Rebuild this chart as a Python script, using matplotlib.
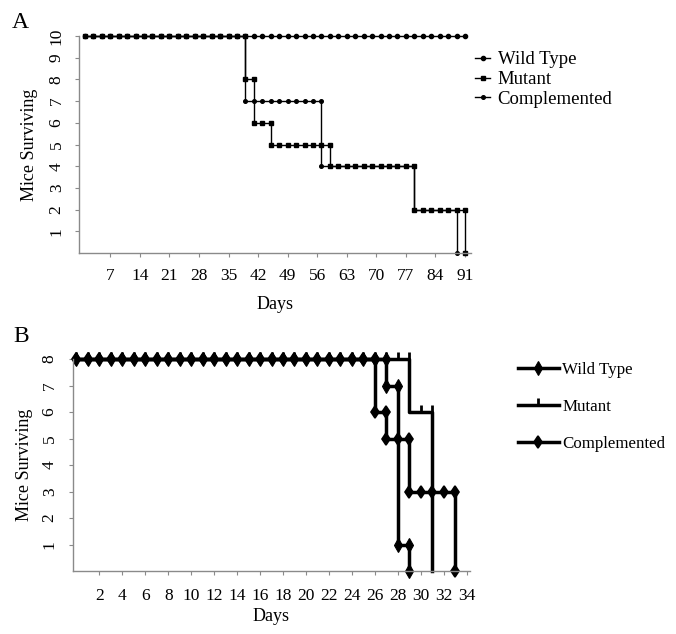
import numpy as np
import matplotlib
matplotlib.use("Agg")
import matplotlib.pyplot as plt

plt.rcParams['font.family'] = ['Liberation Serif', 'DejaVu Serif']

# Panel A: survival events (day, mice alive from that day on), 10 mice per group
wt_a_days = [1, 91]
wt_a_alive = [10, 10]
mut_a_days = [1, 39, 41, 45, 59, 79, 91]
mut_a_alive = [10, 8, 6, 5, 4, 2, 0]
comp_a_days = [1, 39, 57, 79, 89]
comp_a_alive = [10, 7, 4, 2, 0]
obs_a = list(range(1, 92, 2))          # days the mice were checked
xticks_a = [7, 14, 21, 28, 35, 42, 49, 56, 63, 70, 77, 84, 91]
yticks_a = [1, 2, 3, 4, 5, 6, 7, 8, 9, 10]

# Panel B: 8 mice per group
wt_b_days = [0, 27, 28, 29]
wt_b_alive = [8, 7, 1, 0]
mut_b_days = [0, 29, 31]
mut_b_alive = [8, 6, 0]
comp_b_days = [0, 26, 27, 29, 33]
comp_b_alive = [8, 6, 5, 3, 0]
obs_b = list(range(0, 34))
xticks_b = list(range(2, 35, 2))
yticks_b = [1, 2, 3, 4, 5, 6, 7, 8]

labels = ['Wild Type', 'Mutant', 'Complemented']


def step_curve(days, alive, obs):
    # vertices of a survival step curve: every check day plus both corners of each drop
    end = days[-1]
    pts = sorted(set([d for d in obs if d <= end]) | set(days))
    xs, ys = [], []
    for d in pts:
        a = alive[np.searchsorted(days, d, side='right') - 1]
        if ys and ys[-1] != a:
            xs.append(d)
            ys.append(ys[-1])
        xs.append(d)
        ys.append(a)
    return xs, ys


def style_axes(ax):
    for s in ['top', 'right']:
        ax.spines[s].set_visible(False)
    for s in ['left', 'bottom']:
        ax.spines[s].set_color('#8a8a8a')
        ax.spines[s].set_linewidth(1.0)
    ax.tick_params(direction='out', length=3, width=0.8, color='#8a8a8a',
                   labelsize=12.5)


fig = plt.figure(figsize=(6.76, 6.34), dpi=100)

# ---------- A ----------
axA = fig.add_axes([78.6 / 676, 1 - 253 / 634, 392.7 / 676, 217 / 634])
series_a = [(wt_a_days, wt_a_alive, 'o', 3.0),
            (mut_a_days, mut_a_alive, 's', 2.6),
            (comp_a_days, comp_a_alive, 'o', 2.6)]
for (d, a, m, ms), lab in zip(series_a, labels):
    xs, ys = step_curve(d, a, obs_a)
    axA.plot(xs, ys, color='black', lw=1.0, marker=m, ms=ms, label=lab,
             clip_on=False)
axA.set_xlim(-0.5, 92.5)
axA.set_ylim(0, 10)
axA.set_xticks(xticks_a)
axA.set_yticks(yticks_a)
style_axes(axA)
axA.tick_params(axis='x', pad=8)
axA.tick_params(axis='y', pad=7)
for t in axA.get_yticklabels():
    t.set_rotation(90)
    t.set_va('center')
axA.set_xlabel('Days', fontsize=13)
axA.set_ylabel('Mice Surviving', fontsize=13)
axA.xaxis.set_label_coords(0.5, -0.20)
axA.yaxis.set_label_coords(-0.103, 0.5)
axA.legend(loc='upper left', bbox_to_anchor=(475 / 676, 1 - 51 / 634),
           bbox_transform=fig.transFigure, frameon=False, fontsize=13.5,
           handlelength=0.8, handletextpad=0.4, labelspacing=0.15,
           borderpad=0, borderaxespad=0, numpoints=1)
fig.text(20 / 676, 1 - 22 / 634, 'A', fontsize=17, ha='center', va='center')

# ---------- B ----------
axB = fig.add_axes([73 / 676, 1 - 571 / 634, 397 / 676, 212 / 634])
series_b = [(comp_b_days, comp_b_alive, 'd', 6.5, 1.2, 'Complemented'),
            (mut_b_days, mut_b_alive, 2, 5.0, 2.0, 'Mutant'),
            (wt_b_days, wt_b_alive, 'd', 7.5, 0.8, 'Wild Type')]
handles = {}
for d, a, m, ms, mew, lab in series_b:
    xs, ys = step_curve(d, a, obs_b)
    ln, = axB.plot(xs, ys, color='black', lw=2.5, marker=m, ms=ms,
                   mew=mew, label=lab, clip_on=False)
    handles[lab] = ln
axB.set_xlim(-0.3, 34.3)
axB.set_ylim(0, 8)
axB.set_xticks(xticks_b)
axB.set_yticks(yticks_b)
style_axes(axB)
axB.tick_params(axis='x', pad=9)
axB.tick_params(axis='y', pad=8)
for t in axB.get_yticklabels():
    t.set_rotation(90)
    t.set_va('center')
axB.set_xlabel('Days', fontsize=13)
axB.set_ylabel('Mice Surviving', fontsize=13)
axB.xaxis.set_label_coords(0.5, -0.175)
axB.yaxis.set_label_coords(-0.101, 0.5)
axB.legend([handles[l] for l in labels], labels, loc='upper left',
           bbox_to_anchor=(518 / 676, 1 - 362 / 634),
           bbox_transform=fig.transFigure, frameon=False, fontsize=12.2,
           handlelength=2.4, handletextpad=0.2, labelspacing=1.25,
           borderpad=0, borderaxespad=0, numpoints=1)
fig.text(21 / 676, 1 - 337 / 634, 'B', fontsize=17, ha='center', va='center')

fig.savefig('out.png', dpi=100)
